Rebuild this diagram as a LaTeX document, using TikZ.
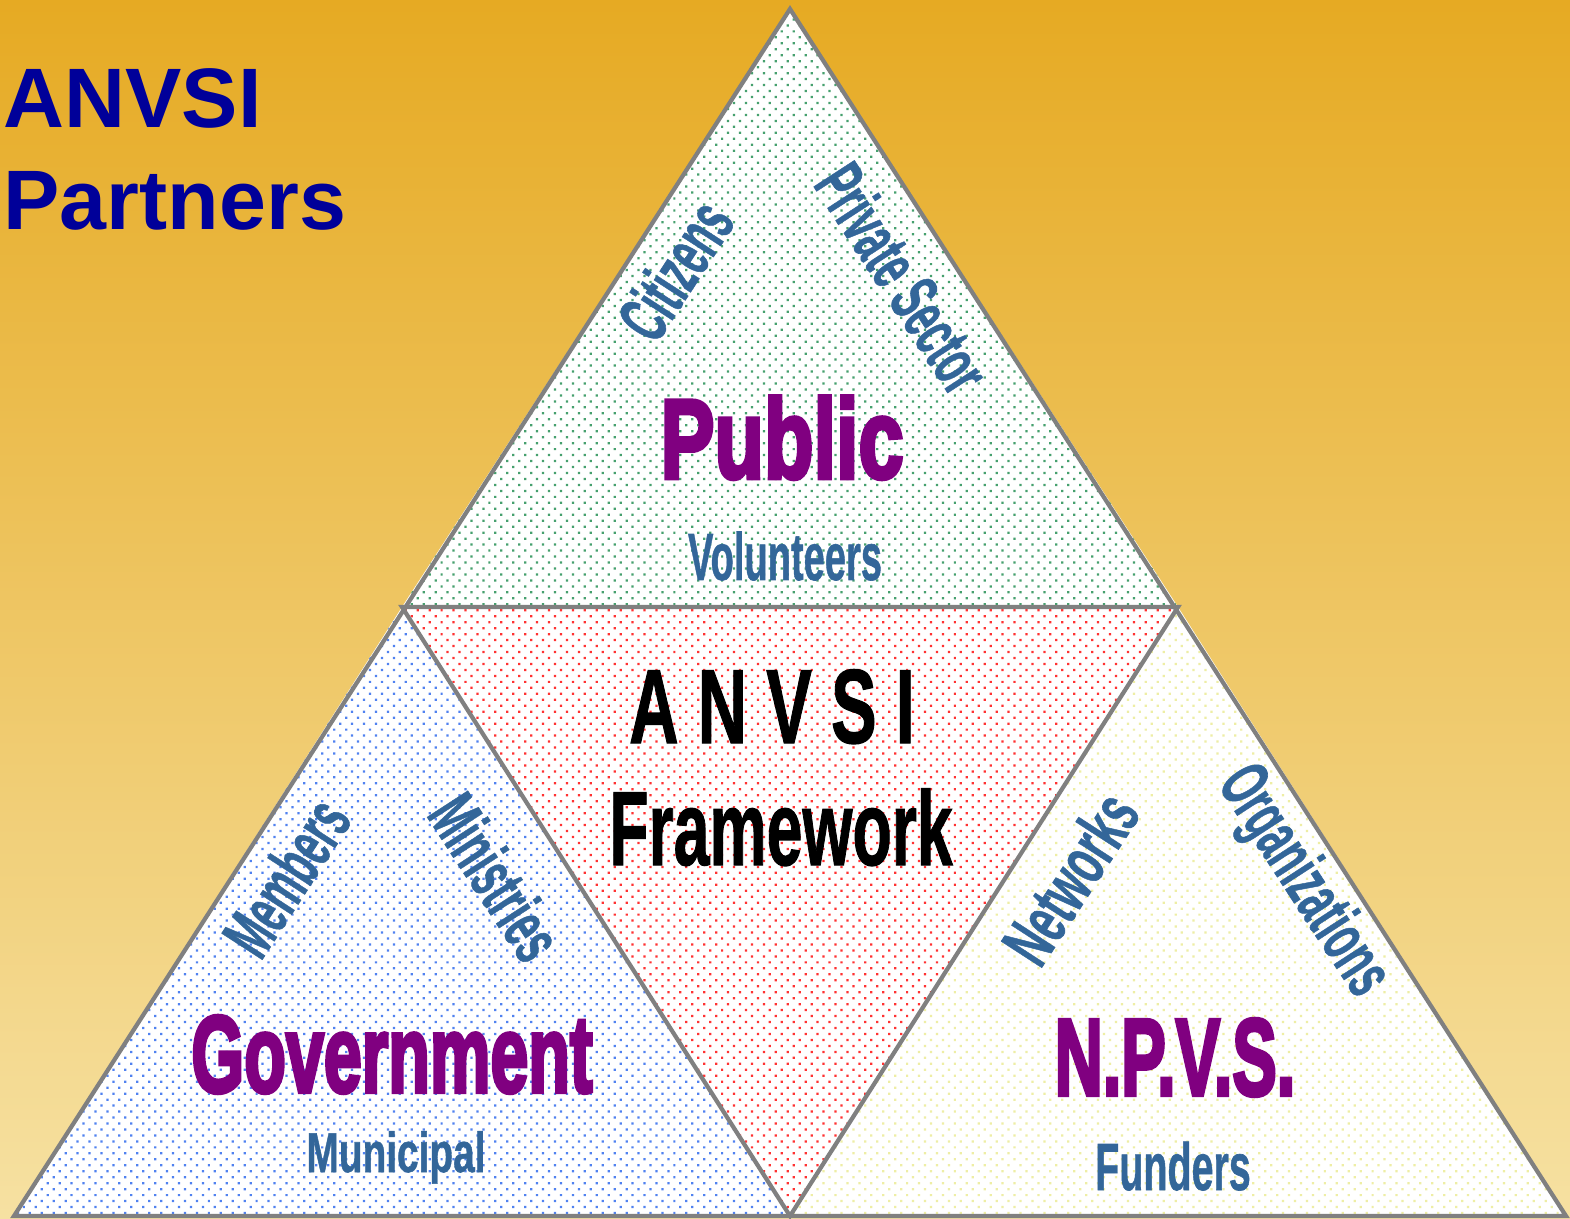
\documentclass[tikz,border=0pt]{standalone}
\usepackage{fontspec}
\setmainfont{Liberation Sans}
\newfontface\heavyface{Liberation Sans Bold}[RawFeature={embolden=4}]
\newfontface\midface{Liberation Sans Bold}[RawFeature={embolden=1}]
\newfontface\blackface{Liberation Sans Bold}[RawFeature={embolden=1.2}]
\usepackage{graphicx}
\usetikzlibrary{patterns.meta}
\definecolor{bgtop}{RGB}{230,170,35}
\definecolor{bgbot}{RGB}{246,225,162}
\definecolor{ttl}{RGB}{0,0,153}
\definecolor{purp}{RGB}{128,0,128}
\definecolor{sblue}{RGB}{51,102,153}
\definecolor{edgegray}{RGB}{128,128,128}
\definecolor{dgreen}{RGB}{70,160,110}
\definecolor{dred}{RGB}{255,50,50}
\definecolor{dblue}{RGB}{80,130,240}
\definecolor{dyellow}{RGB}{238,238,165}
\newcommand\sq[2]{\scalebox{#1}[1]{#2}}
\newcommand\fs[1]{\fontsize{#1}{#1}\selectfont\bfseries}
\newcommand\hv[1]{\fontsize{#1}{#1}\heavyface}
\newcommand\md[1]{\fontsize{#1}{#1}\midface}
\newcommand\bk[1]{\fontsize{#1}{#1}\blackface}
\begin{document}
\begin{tikzpicture}[x=0.01cm,y=-0.01cm,
  outline/.style={draw=edgegray, line width=1.2pt, line join=miter},
  dotfill/.style={preaction={fill=white}, pattern={Dots[distance=2.4pt,radius=0.45pt,angle=45]}, pattern color=#1},
  title/.style={anchor=base west, inner sep=0pt, text=ttl},
  main/.style={anchor=base, inner sep=0pt, text=purp},
  sub/.style={anchor=base, inner sep=0pt, text=sblue},
  side/.style={anchor=center, inner sep=0pt, text=sblue}]
\useasboundingbox (0,0) rectangle (1570,1219);
\shade[top color=bgtop, bottom color=bgbot] (0,0) rectangle (1570,1219);
% vertices
\coordinate (A) at (790,9);
\coordinate (ML) at (402,607);
\coordinate (MR) at (1178,607);
\coordinate (BL) at (14,1216);
\coordinate (BR) at (1566,1216);
\coordinate (MB) at (790,1216);
% fills
\path[dotfill=dgreen] (A) -- (MR) -- (ML) -- cycle;
\path[dotfill=dred] (ML) -- (MR) -- (MB) -- cycle;
\path[dotfill=dblue] (ML) -- (MB) -- (BL) -- cycle;
\path[dotfill=dyellow] (MR) -- (BR) -- (MB) -- cycle;
% outlines
\draw[outline] (A) -- (BR) -- (BL) -- cycle;
\draw[outline] (ML) -- (MR) -- (MB) -- cycle;
% title
\node[title] (t1) at (3,128) {\fs{24}ANVSI};
\node[title] (t2) at (3,230) {\fs{24}Partners};
% top triangle
\node[main] (pub) at (782,478) {\hv{32}\sq{0.72}{Public}};
\node[sub] (vol) at (785,580) {\md{19}\sq{0.57}{Volunteers}};
\node[side, rotate=57] (cit) at (675,270) {\md{20}\sq{0.55}{Citizens}};
\node[side, rotate=-57] (priv) at (903,278) {\md{20}\sq{0.54}{Private Sector}};
% centre triangle
\node[anchor=base, inner sep=0pt] (anv) at (772,743) {\bk{30}\sq{0.65}{A N V S I}};
\node[anchor=base, inner sep=0pt] (frm) at (781,865) {\bk{30}\sq{0.61}{Framework}};
% left triangle
\node[main] (gov) at (392,1092) {\hv{31}\sq{0.625}{Government}};
\node[sub] (mun) at (396,1172) {\md{16}\sq{0.69}{Municipal}};
\node[side, rotate=57] (mem) at (286,877) {\md{20}\sq{0.55}{Members}};
\node[side, rotate=-57] (min) at (496,877) {\md{20}\sq{0.55}{Ministries}};
% right triangle
\node[main] (npvs) at (1175,1095) {\hv{31}\sq{0.61}{N.P.V.S.}};
\node[sub] (fund) at (1173,1190) {\md{19}\sq{0.59}{Funders}};
\node[side, rotate=57] (net) at (1070,878) {\md{20}\sq{0.59}{Networks}};
\node[side, rotate=-57] (org) at (1302,882) {\md{20}\sq{0.55}{Organizations}};
\end{tikzpicture}
\end{document}
